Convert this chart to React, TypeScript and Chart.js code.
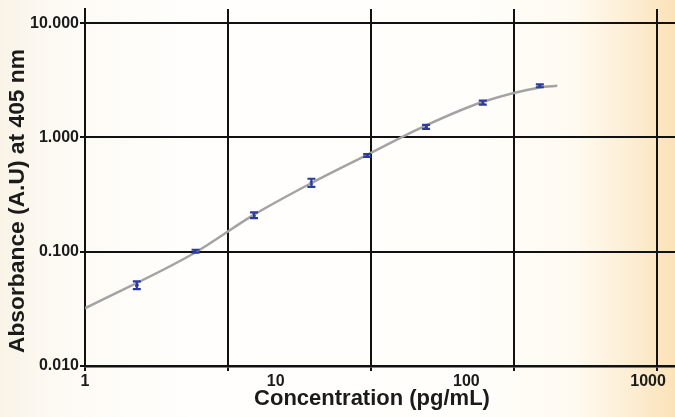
import React, { useEffect, useRef } from 'react';
import { Chart, registerables } from 'chart.js';

Chart.register(...registerables);

// Standard points (concentration in pg/mL, absorbance at 405 nm)
const concentrations = [1.87, 3.8, 7.7, 15.4, 30.2, 61.5, 122, 243];
const absorbance = [0.051, 0.101, 0.209, 0.4, 0.695, 1.24, 2.02, 2.83];
const errLow = [0.047, 0.098, 0.197, 0.37, 0.675, 1.19, 1.94, 2.75];
const errHigh = [0.055, 0.104, 0.221, 0.435, 0.715, 1.29, 2.1, 2.91];

// Fitted curve
const curveX = [1, 3.77, 7.63, 15.45, 30, 61.9, 122.6, 243, 300];
const curveY = [0.032, 0.098, 0.209, 0.4, 0.7, 1.28, 2.05, 2.74, 2.83];

// Axis ticks
const xGridValues = [1, 5.623, 31.62, 177.8, 1000];
const xLabelValues = [1, 10, 100, 1000];
const yTickValues = [0.01, 0.1, 1, 10];

const xTitle = 'Concentration (pg/mL)';
const yTitle = 'Absorbance (A.U) at 405 nm';

const FONT = '"Liberation Sans", Arial, Helvetica, sans-serif';
const TEXT = '#1b1b1b';
const GRID = '#111111';
const MARK = '#2d3c9c';

export default function App() {
  const ref = useRef<HTMLCanvasElement | null>(null);

  useEffect(() => {
    if (!ref.current) return;

    const errorBars = {
      id: 'errorBars',
      afterDatasetsDraw(chart: any) {
        const { ctx, scales } = chart;
        const x = scales.x;
        const y = scales.y;
        ctx.save();
        ctx.strokeStyle = MARK;
        ctx.lineWidth = 2.2;
        concentrations.forEach((c, i) => {
          const px = x.getPixelForValue(c);
          const pl = y.getPixelForValue(errLow[i]);
          const ph = y.getPixelForValue(errHigh[i]);
          ctx.beginPath();
          ctx.moveTo(px, pl);
          ctx.lineTo(px, ph);
          ctx.moveTo(px - 4, pl);
          ctx.lineTo(px + 4, pl);
          ctx.moveTo(px - 4, ph);
          ctx.lineTo(px + 4, ph);
          ctx.stroke();
        });
        ctx.restore();
      },
    };

    const titles = {
      id: 'axisTitles',
      afterDraw(chart: any) {
        const { ctx } = chart;
        ctx.save();
        ctx.fillStyle = TEXT;
        ctx.textAlign = 'center';
        ctx.textBaseline = 'middle';
        ctx.font = `bold 22px ${FONT}`;
        ctx.fillText(xTitle, 372, 399);
        ctx.font = `bold 22.8px ${FONT}`;
        ctx.translate(18, 201);
        ctx.rotate(-Math.PI / 2);
        ctx.fillText(yTitle, 0, 0);
        ctx.restore();
      },
    };

    const allXTicks = [...xGridValues, ...xLabelValues]
      .filter((v, i, a) => a.indexOf(v) === i)
      .sort((a, b) => a - b);

    const chart = new Chart(ref.current, {
      type: 'scatter',
      data: {
        datasets: [
          {
            type: 'line',
            label: 'Fit',
            data: curveX.map((x, i) => ({ x, y: curveY[i] })),
            borderColor: '#a3a3a3',
            borderWidth: 2.5,
            pointRadius: 0,
            cubicInterpolationMode: 'monotone',
            fill: false,
          },
          {
            type: 'scatter',
            label: 'Standards',
            data: concentrations.map((x, i) => ({ x, y: absorbance[i] })),
            backgroundColor: MARK,
            borderColor: MARK,
            pointStyle: 'rect',
            pointRadius: 1.8,
          },
        ],
      },
      options: {
        animation: false,
        responsive: true,
        maintainAspectRatio: false,
        layout: { autoPadding: false, padding: { top: 9, left: 0, right: 0, bottom: 0 } },
        plugins: {
          legend: { display: false },
          tooltip: { enabled: false },
          title: { display: false },
        },
        scales: {
          x: {
            type: 'logarithmic',
            min: 1,
            max: 1243,
            afterBuildTicks: (scale: any) => {
              scale.ticks = allXTicks.map((v) => ({ value: v }));
            },
            afterFit: (scale: any) => {
              scale.height = 51;
              scale.paddingRight = 0;
              scale.paddingLeft = 0;
            },
            grid: {
              color: (ctx: any) =>
                ctx.tick && xGridValues.includes(ctx.tick.value) ? GRID : 'rgba(0,0,0,0)',
              lineWidth: 2,
              tickLength: 5,
            },
            border: { display: true, color: GRID, width: 2.5 },
            ticks: {
              autoSkip: false,
              maxRotation: 0,
              padding: 1,
              color: TEXT,
              font: { family: FONT, size: 16, weight: 'bold' },
              callback: (value: any) => {
                const v = Number(value);
                if (!xLabelValues.includes(v)) return '';
                // the last label is pulled in from the edge, as in the source
                return v === 1000 ? '1000    ' : String(v);
              },
            },
          },
          y: {
            type: 'logarithmic',
            min: 0.01,
            max: 13.3,
            afterBuildTicks: (scale: any) => {
              scale.ticks = yTickValues.map((v) => ({ value: v }));
            },
            afterFit: (scale: any) => {
              scale.width = 85;
              scale.paddingTop = 0;
              scale.paddingBottom = 0;
            },
            grid: { color: GRID, lineWidth: 2, tickLength: 5 },
            border: { display: true, color: GRID, width: 2 },
            ticks: {
              autoSkip: false,
              padding: 1,
              color: TEXT,
              font: { family: FONT, size: 16, weight: 'bold' },
              callback: (value: any) => Number(value).toFixed(3),
            },
          },
        },
      },
      plugins: [errorBars, titles],
    } as any);

    return () => chart.destroy();
  }, []);

  return (
    <div
      style={{
        position: 'fixed',
        left: 0,
        top: 0,
        width: 675,
        height: 417,
        background:
          'linear-gradient(90deg, #f9f3e7 0%, #fdfaf4 8%, #fffefc 28%, #fffefb 70%, #fffaf1 85%, #fdeed5 93%, #fbe2b8 100%)',
      }}
    >
      <canvas ref={ref} />
    </div>
  );
}
